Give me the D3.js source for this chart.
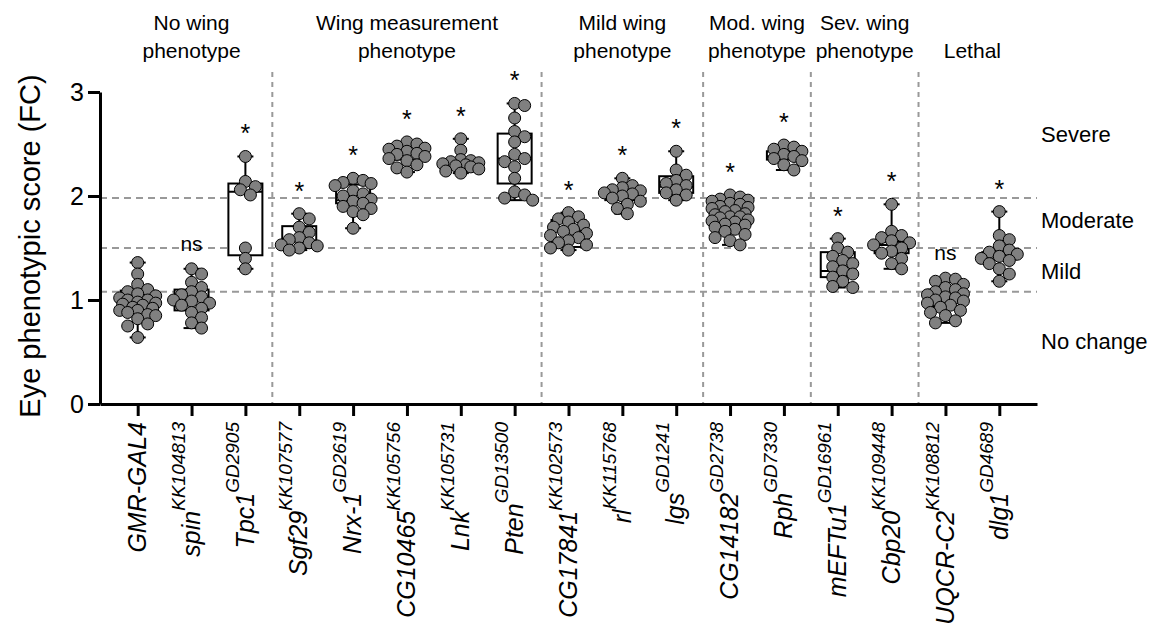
<!DOCTYPE html>
<html>
<head>
<meta charset="utf-8">
<script src="https://cdn.jsdelivr.net/npm/d3@7"></script>
<style>
  body { margin: 0; background: #fff; }
  svg text { font-family: "Liberation Sans", Arial, sans-serif; }
</style>
</head>
<body>
<svg id="chart" width="1167" height="634"></svg>
<script>
// lines and their RNAi line ids (superscripts)
const names = ['GMR-GAL4', 'spin', 'Tpc1', 'Sgf29', 'Nrx-1', 'CG10465', 'Lnk', 'Pten',
  'CG17841', 'rl', 'lgs', 'CG14182', 'Rph', 'mEFTu1', 'Cbp20', 'UQCR-C2', 'dlg1'];
const lineIds = ['', 'KK104813', 'GD2905', 'KK107577', 'GD2619', 'KK105756', 'KK105731', 'GD13500',
  'KK102573', 'KK115768', 'GD1241', 'GD2738', 'GD7330', 'GD16961', 'KK109448', 'KK108812', 'GD4689'];

// individual eye scores (FC)
const scores = [
  [1.36, 1.25, 1.15, 1.10, 1.08, 1.06, 1.04, 1.02, 1.00, 1.00, 0.98, 0.97, 0.96, 0.95, 0.93, 0.92, 0.90, 0.90, 0.88, 0.86, 0.85, 0.82, 0.77, 0.75, 0.64],
  [1.30, 1.25, 1.17, 1.12, 1.08, 1.05, 1.03, 1.00, 0.99, 0.97, 0.95, 0.92, 0.88, 0.83, 0.78, 0.73],
  [2.38, 2.14, 2.09, 2.06, 2.01, 1.50, 1.40, 1.30],
  [1.83, 1.78, 1.70, 1.65, 1.60, 1.58, 1.55, 1.53, 1.52, 1.50, 1.48],
  [2.17, 2.15, 2.13, 2.12, 2.10, 2.05, 2.02, 2.00, 1.97, 1.95, 1.93, 1.90, 1.88, 1.85, 1.82, 1.69],
  [2.52, 2.50, 2.48, 2.46, 2.45, 2.43, 2.41, 2.40, 2.38, 2.36, 2.34, 2.30, 2.27, 2.23],
  [2.55, 2.44, 2.35, 2.34, 2.33, 2.32, 2.31, 2.30, 2.29, 2.28, 2.26, 2.24, 2.22],
  [2.89, 2.87, 2.75, 2.62, 2.57, 2.52, 2.40, 2.36, 2.33, 2.28, 2.17, 2.04, 2.01, 1.98, 1.96],
  [1.84, 1.80, 1.78, 1.75, 1.72, 1.70, 1.68, 1.66, 1.64, 1.62, 1.60, 1.57, 1.55, 1.53, 1.50, 1.48],
  [2.17, 2.10, 2.08, 2.06, 2.05, 2.03, 2.02, 2.00, 1.98, 1.95, 1.92, 1.88, 1.83],
  [2.43, 2.25, 2.20, 2.15, 2.12, 2.10, 2.06, 2.03, 2.01, 1.96],
  [2.01, 1.99, 1.97, 1.96, 1.95, 1.93, 1.92, 1.90, 1.89, 1.88, 1.86, 1.85, 1.83, 1.82, 1.80, 1.80, 1.79, 1.77, 1.76, 1.75, 1.73, 1.72, 1.70, 1.68, 1.66, 1.63, 1.60, 1.57, 1.53],
  [2.49, 2.47, 2.45, 2.43, 2.40, 2.38, 2.36, 2.34, 2.30, 2.25],
  [1.59, 1.50, 1.46, 1.42, 1.38, 1.35, 1.32, 1.28, 1.25, 1.22, 1.18, 1.13, 1.12],
  [1.92, 1.66, 1.62, 1.60, 1.57, 1.55, 1.53, 1.50, 1.47, 1.45, 1.40, 1.35, 1.30],
  [1.21, 1.20, 1.18, 1.15, 1.12, 1.10, 1.08, 1.06, 1.05, 1.03, 1.02, 1.00, 0.99, 0.97, 0.95, 0.93, 0.90, 0.88, 0.85, 0.80, 0.78],
  [1.85, 1.62, 1.58, 1.52, 1.48, 1.46, 1.44, 1.42, 1.40, 1.38, 1.35, 1.30, 1.25, 1.18],
];

// box plot quartiles
const q1 = [0.89, 0.90, 1.43, 1.50, 1.93, 2.35, 2.29, 2.12, 1.51, 1.96, 2.03, 1.70, 2.35, 1.22, 1.45, 0.94, 1.39];
const median = [0.99, 1.00, 2.04, 1.57, 1.96, 2.40, 2.31, 2.36, 1.66, 2.02, 2.09, 1.80, 2.38, 1.28, 1.53, 1.01, 1.43];
const q3 = [1.09, 1.10, 2.12, 1.71, 2.11, 2.44, 2.35, 2.60, 1.77, 2.06, 2.19, 1.92, 2.43, 1.46, 1.56, 1.10, 1.46];

const signif = ['', 'ns', '*', '*', '*', '*', '*', '*', '*', '*', '*', '*', '*', '*', '*', 'ns', '*'];

// wing phenotype groups: title lines, first and last line index
const groupTitles = [['No wing', 'phenotype'], ['Wing measurement', 'phenotype'], ['Mild wing', 'phenotype'],
  ['Mod. wing', 'phenotype'], ['Sev. wing', 'phenotype'], ['Lethal']];
const groupStart = [0, 3, 8, 11, 13, 15];
const groupEnd = [2, 7, 10, 12, 14, 16];

// eye phenotype thresholds and class labels
const thresholds = [1.08, 1.50, 1.98];
const classLabels = ['Severe', 'Moderate', 'Mild', 'No change'];
const classAt = [2.59, 1.77, 1.28, 0.60];

// small stand-in for d3-selection-multi
d3.selection.prototype.attrs = function (m) {
  if (typeof m === 'function') {
    return this.each(function (d, i, nodes) {
      const o = m.call(this, d, i, nodes);
      for (const k in o) this.setAttribute(k, o[k]);
    });
  }
  for (const k in m) this.attr(k, m[k]);
  return this;
};

const svg = d3.select('#chart');
const font = '"Liberation Sans", Arial, sans-serif';

const y = d3.scaleLinear().domain([0, 3]).range([404, 92]);
const x = d3.scalePoint().domain(d3.range(names.length)).range([100, 1037]).padding(0.7);

/****************** 기준선 ******************/
svg.append('g')
  .selectAll('line')
  .data(thresholds)
  .join('line')
  .attrs(d => ({
    x1: 100, x2: 1037, y1: y(d), y2: y(d),
    stroke: '#999', 'stroke-width': 2, 'stroke-dasharray': '7,5',
  }));

// group separators
svg.append('g')
  .selectAll('line')
  .data(groupStart.slice(1))
  .join('line')
  .attrs(d => {
    const sx = (x(d - 1) + x(d)) / 2;
    return {
      x1: sx, x2: sx, y1: 72, y2: y(0),
      stroke: '#999', 'stroke-width': 2, 'stroke-dasharray': '5,5',
    };
  });

/****************** 박스 ******************/
const bw = 17;
const boxes = svg.append('g')
  .selectAll('g')
  .data(names.map((n, i) => i))
  .join('g');

boxes.append('line')
  .attrs(i => ({ x1: x(i), x2: x(i), y1: y(d3.max(scores[i])), y2: y(d3.min(scores[i])), stroke: '#000', 'stroke-width': 2 }));
boxes.append('rect')
  .attrs(i => ({
    x: x(i) - bw, y: y(q3[i]), width: bw * 2, height: y(q1[i]) - y(q3[i]),
    fill: '#fff', stroke: '#000', 'stroke-width': 2,
  }));
boxes.append('line')
  .attrs(i => ({ x1: x(i) - bw, x2: x(i) + bw, y1: y(median[i]), y2: y(median[i]), stroke: '#000', 'stroke-width': 2 }));
[d3.min, d3.max].forEach(f => {
  boxes.append('line')
    .attrs(i => ({ x1: x(i) - 8, x2: x(i) + 8, y1: y(f(scores[i])), y2: y(f(scores[i])), stroke: '#000', 'stroke-width': 2 }));
});

/****************** 점 ******************/
const r = 6;
function swarm(vals, cx) {
  const placed = [];
  const offsets = [0, 5, -5, 10, -10, 15, -15, 18, -18];
  vals.forEach(v => {
    const py = y(v);
    let best = null, bestD = -1;
    for (const o of offsets) {
      const d = placed.length ? d3.min(placed, p => Math.hypot(p[0] - (cx + o), p[1] - py)) : Infinity;
      if (d >= 9) { best = o; bestD = d; break; }
      if (d > bestD) { bestD = d; best = o; }
    }
    placed.push([cx + best, py]);
  });
  return placed;
}

names.forEach((n, i) => {
  svg.append('g')
    .selectAll('circle')
    .data(swarm(scores[i], x(i)))
    .join('circle')
    .attrs(p => ({ cx: p[0], cy: p[1], r: r, fill: '#808080', stroke: '#000', 'stroke-width': 1 }));
});

/****************** 유의성 ******************/
svg.append('g')
  .selectAll('text')
  .data(names.map((n, i) => i).filter(i => signif[i]))
  .join('text')
  .text(i => signif[i])
  .attrs(i => ({
    x: x(i),
    y: y(d3.max(scores[i])) - (signif[i] === 'ns' ? 18 : 14),
    'text-anchor': 'middle',
    'font-size': signif[i] === 'ns' ? '21px' : '25px',
    'font-family': font,
  }));

/****************** 축 ******************/
const yAxis = svg.append('g')
  .attr('transform', 'translate(100,0)')
  .call(d3.axisLeft(y).tickValues([0, 1, 2, 3]).tickFormat(d3.format('d'))
    .tickSize(12).tickSizeOuter(0).tickPadding(4));
yAxis.select('.domain').attrs({ 'stroke-width': 3 });
yAxis.selectAll('.tick line').attrs({ 'stroke-width': 3 });
yAxis.selectAll('.tick text').attrs({ 'font-size': '25px', 'font-family': font, fill: '#000' });

const xAxis = svg.append('g')
  .attr('transform', `translate(0,${y(0)})`)
  .call(d3.axisBottom(x).tickSize(12).tickSizeOuter(0).tickFormat(''));
xAxis.select('.domain').attrs({ 'stroke-width': 3 });
xAxis.selectAll('.tick line').attrs({ 'stroke-width': 3 });

const labels = svg.append('g')
  .selectAll('text')
  .data(names.map((n, i) => i))
  .join('text')
  .attrs(i => ({
    transform: `translate(${x(i)},422) rotate(-90)`,
    'text-anchor': 'end',
    'font-family': font,
    'font-style': 'italic',
    'font-size': '25px',
    dy: '0.33em',
  }));
labels.append('tspan').text(i => names[i]);
labels.filter(i => lineIds[i]).append('tspan')
  .text(i => lineIds[i])
  .attrs({ 'font-size': '19px', dy: -15 });

svg.append('text')
  .text('Eye phenotypic score (FC)')
  .attrs({
    transform: 'translate(40,246) rotate(-90)',
    'text-anchor': 'middle',
    'font-size': '29px',
    'font-family': font,
  });

/****************** 그룹 제목 ******************/
groupTitles.forEach((t, g) => {
  const cx = (x(groupStart[g]) + x(groupEnd[g])) / 2;
  t.forEach((s, k) => {
    svg.append('text')
      .text(s)
      .attrs({
        x: cx,
        y: 58 - (t.length - 1 - k) * 28,
        'text-anchor': 'middle',
        'font-size': '21px',
        'font-family': font,
      });
  });
});

/****************** 오른쪽 분류 ******************/
svg.append('g')
  .selectAll('text')
  .data(classLabels)
  .join('text')
  .text(d => d)
  .attrs((d, k) => ({
    x: 1041,
    y: y(classAt[k]),
    dy: '0.35em',
    'text-anchor': 'start',
    'font-size': '22px',
    'font-family': font,
  }));
</script>
</body>
</html>
